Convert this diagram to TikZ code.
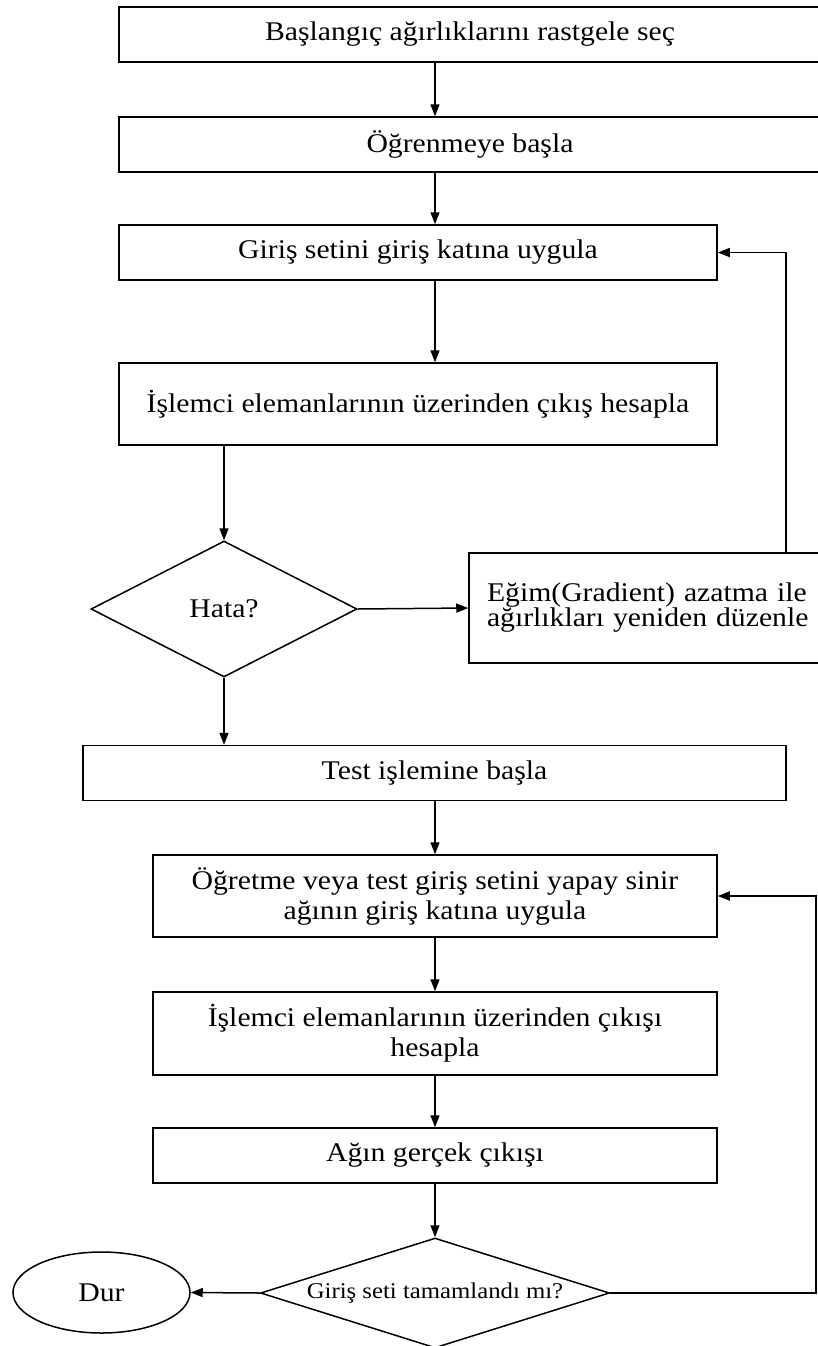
\documentclass[tikz,border=0pt]{standalone}
\usepackage{fontspec}
\setmainfont[FakeStretch=1.1]{Liberation Serif}
\usetikzlibrary{shapes.geometric,arrows.meta}
\newcommand{\mainfs}{\fontsize{27}{30}\selectfont}
\newcommand{\smallfs}{\fontsize{22.5}{26}\selectfont}
\begin{document}
\begin{tikzpicture}[x=1pt,y=-1pt,
  box/.style={draw, line width=1.5pt, rectangle, inner sep=0pt, font=\mainfs, align=center},
  dia/.style={diamond, draw, line width=1.5pt, inner sep=0pt},
  arr/.style={line width=1.5pt, -{Triangle[length=12pt,width=9pt]}}]
\useasboundingbox (0,0) rectangle (817,1346);
\fill[white] (0,0) rectangle (817,1346);

\node[box, minimum width=702pt, minimum height=55pt] (b1) at (470,34.5) {Başlangıç ağırlıklarını rastgele seç};
\node[box, minimum width=702pt, minimum height=55pt] (b2) at (470,144.5) {Öğrenmeye başla};
\node[box, minimum width=598pt, minimum height=55pt] (b3) at (418,252.5) {Giriş setini giriş katına uygula};
\node[box, minimum width=598pt, minimum height=82pt] (b4) at (418,404) {İşlemci elemanlarının üzerinden çıkış hesapla};
\node[dia, minimum width=266pt, minimum height=136pt, shape aspect=1.96, font=\mainfs] (d1) at (224,609) {Hata?};
\node[box, minimum width=362pt, minimum height=110pt, text width=326pt, align=left] (eg) at (650,608) {Eğim(Gradient) azatma ile\\[-5pt]ağırlıkları yeniden düzenle};
\node[box, minimum width=703pt, minimum height=55pt] (test) at (434.5,773) {Test işlemine başla};
\node[box, minimum width=564pt, minimum height=82pt] (b6) at (435,896) {Öğretme veya test giriş setini yapay sinir\\ağının giriş katına uygula};
\node[box, minimum width=564pt, minimum height=83pt] (b7) at (435,1033.5) {İşlemci elemanlarının üzerinden çıkışı\\hesapla};
\node[box, minimum width=564pt, minimum height=55pt] (b8) at (435,1155.5) {Ağın gerçek çıkışı};
\node[dia, minimum width=349pt, minimum height=110pt, shape aspect=3.17, font=\smallfs] (d2) at (435,1293) {Giriş seti tamamlandı mı?};
\node[ellipse, draw, line width=1.5pt, minimum width=177pt, minimum height=81pt, inner sep=0pt, font=\mainfs] (dur) at (101.5,1292.5) {Dur};

\coordinate (ax) at (435,0);
\coordinate (fb1) at (786,0);
\coordinate (fb2) at (816,0);
\draw[arr] (b1.south -| ax) -- (b2.north -| ax);
\draw[arr] (b2.south -| ax) -- (b3.north -| ax);
\draw[arr] (b3.south -| ax) -- (b4.north -| ax);
\draw[arr] (d1.north |- b4.south) -- (d1.north);
\draw[arr] (d1.east) -- (eg.west);
\draw[arr] (eg.north -| fb1) |- (b3.east);
\draw[arr] (d1.south) -- (d1.south |- test.north);
\draw[arr] (test.south -| ax) -- (b6.north -| ax);
\draw[arr] (b6.south) -- (b7.north);
\draw[arr] (b7.south) -- (b8.north);
\draw[arr] (b8.south) -- (d2.north);
\draw[arr] (d2.west) -- (dur.east);
\draw[arr] (d2.east) -- (d2.east -| fb2) |- (b6.east);
\end{tikzpicture}
\end{document}
